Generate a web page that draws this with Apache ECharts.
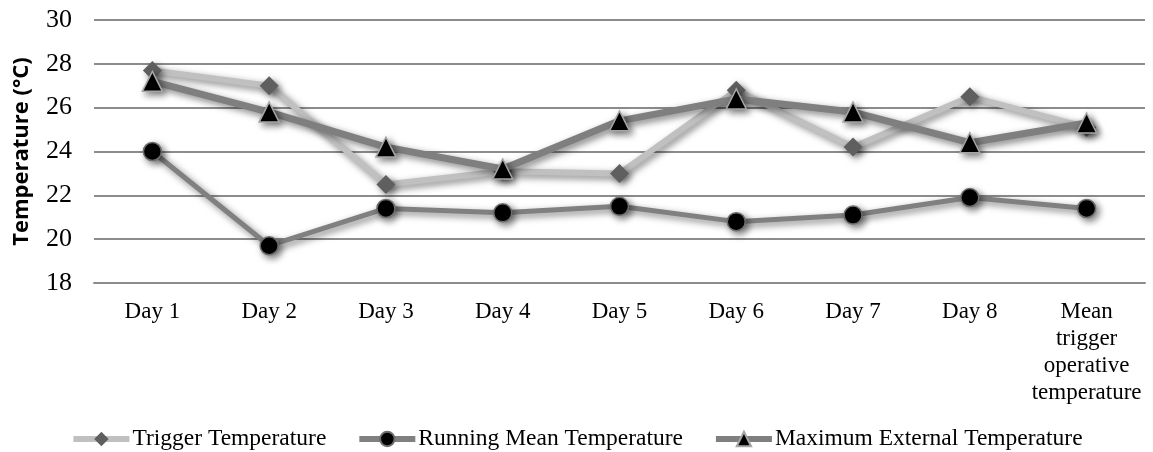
<!DOCTYPE html>
<html>
<head>
<meta charset="utf-8">
<script src="https://cdn.jsdelivr.net/npm/echarts@6/dist/echarts.min.js"></script>
<style>html,body{margin:0;padding:0;background:#fff}#c{width:1153px;height:452px}</style>
</head>
<body>
<div id="c"></div>
<script>
var categories = ['Day 1','Day 2','Day 3','Day 4','Day 5','Day 6','Day 7','Day 8','Mean\ntrigger\noperative\ntemperature'];
var triggerTemp = [27.7, 27.0, 22.5, 23.1, 23.0, 26.8, 24.2, 26.5, 25.1];
var runningMean = [24.0, 19.7, 21.4, 21.2, 21.5, 20.8, 21.1, 21.9, 21.4];
var maxExternal = [27.2, 25.8, 24.2, 23.2, 25.4, 26.4, 25.8, 24.4, 25.3];
var yTicks = {min: 18, max: 30, interval: 2};

var serif = '"Liberation Serif", "Times New Roman", serif';
var shadow = {shadowColor: 'rgba(0,0,0,0.5)', shadowBlur: 7, shadowOffsetX: 3, shadowOffsetY: 3};

var chart = echarts.init(document.getElementById('c'));
chart.setOption({
  animation: false,
  grid: {left: 94, right: 8, top: 20, bottom: 169},
  legend: {
    bottom: 1, left: 'center', padding: [0, 5, 0, 5], itemWidth: 56, itemHeight: 18, itemGap: 30,
    textStyle: {fontFamily: serif, fontSize: 23.5, color: '#000', padding: [0, 0, 0, -2]},
    lineStyle: {width: 6, shadowBlur: 0, shadowOffsetX: 0, shadowOffsetY: 0},
    data: ['Trigger Temperature', 'Running Mean Temperature', 'Maximum External Temperature']
  },
  xAxis: {
    type: 'category', data: categories, boundaryGap: true,
    axisLine: {show: true, lineStyle: {color: '#8c8c8c', width: 2}},
    axisTick: {show: false},
    axisLabel: {fontFamily: serif, fontSize: 23, color: '#000', margin: 15, lineHeight: 27, interval: 0}
  },
  yAxis: {
    type: 'value', min: yTicks.min, max: yTicks.max, interval: yTicks.interval,
    name: 'Temperature (°C)', nameLocation: 'middle', nameGap: 61,
    nameTextStyle: {fontFamily: '"Open Sans", sans-serif', fontWeight: 'bold', fontSize: 22, color: '#000'},
    axisLine: {show: false}, axisTick: {show: false},
    axisLabel: {fontFamily: serif, fontSize: 26, color: '#000', margin: 22},
    splitLine: {lineStyle: {color: '#8c8c8c', width: 2}}
  },
  series: [
    {
      name: 'Trigger Temperature', type: 'line', data: triggerTemp,
      symbol: 'diamond', symbolSize: 19,
      lineStyle: Object.assign({color: '#c0c0c0', width: 6}, shadow),
      itemStyle: Object.assign({color: '#5f5f5f', borderColor: '#5f5f5f', borderWidth: 0}, shadow),
      z: 2
    },
    {
      name: 'Running Mean Temperature', type: 'line', data: runningMean,
      symbol: 'circle', symbolSize: 18,
      lineStyle: Object.assign({color: '#808080', width: 5}, shadow),
      itemStyle: Object.assign({color: '#000', borderColor: '#6e6e6e', borderWidth: 1.5}, shadow),
      z: 3
    },
    {
      name: 'Maximum External Temperature', type: 'line', data: maxExternal,
      symbol: 'triangle', symbolSize: 20,
      lineStyle: Object.assign({color: '#7f7f7f', width: 7}, shadow),
      itemStyle: Object.assign({color: '#000', borderColor: '#a6a6a6', borderWidth: 1.5}, shadow),
      z: 4
    }
  ]
});
</script>
</body>
</html>
